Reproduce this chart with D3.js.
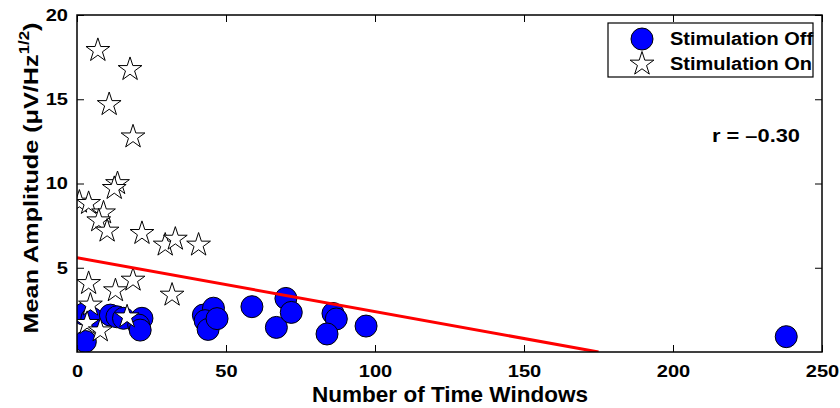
<!DOCTYPE html>
<html>
<head>
<meta charset="utf-8">
<script src="https://cdn.jsdelivr.net/npm/d3@7/dist/d3.min.js"></script>
<style>
  html, body { margin: 0; padding: 0; background: #fff; }
  svg { display: block; font-family: "Liberation Sans", Arial, Helvetica, sans-serif; }
</style>
</head>
<body>
<svg id="chart" width="840" height="408"></svg>
<script>
// Stimulation Off: [number of time windows, mean amplitude]
const stimOff = [
  [2.8, 0.62], [2.2, 2.25], [5.0, 2.0],
  [11.2, 2.19], [13.4, 2.09], [15.6, 2.0], [21.8, 2.0], [20.7, 1.6], [21.2, 1.3],
  [42.4, 2.19], [45.8, 2.6], [43.0, 1.86], [44.0, 1.34], [47.0, 1.98],
  [58.7, 2.69], [66.9, 1.46], [70.1, 3.18], [71.9, 2.35],
  [85.9, 2.29], [87.0, 1.96], [83.9, 1.07], [97.0, 1.54],
  [238.0, 0.91]
];
// Stimulation On: [number of time windows, mean amplitude]
const stimOn = [
  [7.0, 17.9], [17.8, 16.77], [10.8, 14.69], [18.8, 12.77],
  [13.6, 10.0], [12.5, 9.71], [0.8, 8.9], [3.9, 8.82], [8.9, 8.26],
  [7.3, 7.79], [10.1, 7.18], [21.8, 7.04], [29.6, 6.35], [33.0, 6.70], [40.8, 6.35],
  [3.9, 4.07], [12.9, 3.64], [18.8, 4.27], [31.9, 3.38],
  [4.5, 2.79], [3.4, 1.70], [7.8, 1.26], [16.8, 2.09]
];
// Least-squares fit across all points: intercept and slope
const fitIntercept = 5.6;
const fitSlope = -0.032;
const rLabel = "r = \u20130.30";

const xTicks = [0, 50, 100, 150, 200, 250];
const yTicks = [5, 10, 15, 20];
const seriesNames = ["Stimulation Off", "Stimulation On"];

const svg = d3.select("#chart");
const m = { left: 77, right: 822, top: 15, bottom: 352 };
const WIDE = 1.18; // horizontal glyph stretch used for labels

const x = d3.scaleLinear().domain([0, 250]).range([m.left, m.right]);
const y = d3.scaleLinear().domain([0, 20]).range([m.bottom, m.top]);

const starPath = d3.symbol().type(d3.symbolStar).size(175);

function widen(sel, factor) {
  sel.each(function () {
    const w = this.getComputedTextLength();
    d3.select(this).attr("textLength", w * factor).attr("lengthAdjust", "spacingAndGlyphs");
  });
}

svg.append("defs").append("clipPath").attr("id", "plot-clip")
  .append("rect")
  .attr("x", m.left).attr("y", m.top)
  .attr("width", m.right - m.left).attr("height", m.bottom - m.top);

const plot = svg.append("g").attr("clip-path", "url(#plot-clip)");

// circles for stimulation off
plot.selectAll("circle.off").data(stimOff).enter().append("circle")
  .attr("class", "off")
  .attr("cx", d => x(d[0])).attr("cy", d => y(d[1]))
  .attr("r", 11)
  .attr("fill", "#0000ff").attr("stroke", "#000").attr("stroke-width", 1);

// stars for stimulation on
plot.selectAll("path.on").data(stimOn).enter().append("path")
  .attr("class", "on")
  .attr("d", starPath)
  .attr("transform", d => `translate(${x(d[0])},${y(d[1])})`)
  .attr("fill", "#fff").attr("stroke", "#000").attr("stroke-width", 1);

// regression line, stopped where it meets the x axis
const xEnd = -fitIntercept / fitSlope;
plot.append("line")
  .attr("x1", x(0)).attr("y1", y(fitIntercept))
  .attr("x2", x(xEnd)).attr("y2", y(fitIntercept + fitSlope * xEnd))
  .attr("stroke", "#ff0000").attr("stroke-width", 3);

// axes with inward ticks on all four sides
const tickLen = 7;
const axisBottom = d3.axisBottom(x).tickValues(xTicks).tickSizeInner(-tickLen).tickSizeOuter(0).tickPadding(13);
const axisTop = d3.axisTop(x).tickValues(xTicks).tickSizeInner(-tickLen).tickSizeOuter(0).tickFormat("");
const axisLeft = d3.axisLeft(y).tickValues(yTicks).tickSizeInner(-tickLen).tickSizeOuter(0).tickPadding(9);
const axisRight = d3.axisRight(y).tickValues(yTicks).tickSizeInner(-tickLen).tickSizeOuter(0).tickFormat("");

function styleAxis(g) {
  g.select(".domain").remove();
  g.selectAll(".tick line").attr("stroke", "#000").attr("stroke-width", 1);
  g.selectAll(".tick text")
    .attr("fill", "#000").attr("font-size", 17).attr("font-weight", "bold")
    .attr("font-family", "Liberation Sans, Arial, sans-serif")
    .call(widen, WIDE);
}

svg.append("g").attr("transform", `translate(0,${m.bottom})`).call(axisBottom).call(styleAxis);
svg.append("g").attr("transform", `translate(0,${m.top})`).call(axisTop).call(styleAxis);
svg.append("g").attr("transform", `translate(${m.left},0)`).call(axisLeft).call(styleAxis);
svg.append("g").attr("transform", `translate(${m.right},0)`).call(axisRight).call(styleAxis);

// box
svg.append("rect")
  .attr("x", m.left).attr("y", m.top)
  .attr("width", m.right - m.left).attr("height", m.bottom - m.top)
  .attr("fill", "none").attr("stroke", "#000").attr("stroke-width", 1.5);

// axis titles
svg.append("text")
  .attr("x", 450).attr("y", 402)
  .attr("text-anchor", "middle")
  .attr("font-size", 22.5).attr("font-weight", "bold")
  .attr("textLength", 276).attr("lengthAdjust", "spacingAndGlyphs")
  .text("Number of Time Windows");

const yTitle = svg.append("text")
  .attr("transform", `translate(38,${178}) rotate(-90) scale(1.2,1)`)
  .attr("text-anchor", "middle")
  .attr("font-size", 21).attr("font-weight", "bold");
yTitle.append("tspan").text("Mean Amplitude (\u03BCV/Hz");
yTitle.append("tspan").attr("font-size", 14).attr("dy", -9).text("1/2");
yTitle.append("tspan").attr("dy", 9).text(")");

// correlation label
svg.append("text")
  .attr("x", 800).attr("y", 142)
  .attr("text-anchor", "end")
  .attr("font-size", 18.5).attr("font-weight", "bold")
  .text(rLabel)
  .call(widen, WIDE);

// legend
const legend = svg.append("g");
legend.append("rect")
  .attr("x", 608).attr("y", 23).attr("width", 205).attr("height", 54)
  .attr("fill", "#fff").attr("stroke", "#000").attr("stroke-width", 1.2);
legend.append("circle")
  .attr("cx", 642).attr("cy", 39).attr("r", 11)
  .attr("fill", "#0000ff").attr("stroke", "#000").attr("stroke-width", 1);
legend.append("path")
  .attr("d", starPath)
  .attr("transform", "translate(642,64)")
  .attr("fill", "#fff").attr("stroke", "#000").attr("stroke-width", 1);
legend.selectAll("text.leg").data(seriesNames).enter().append("text")
  .attr("class", "leg")
  .attr("x", 670).attr("y", (d, i) => 44.5 + i * 25.5)
  .attr("font-size", 18).attr("font-weight", "bold")
  .text(d => d)
  .call(widen, 1.11);
</script>
</body>
</html>
